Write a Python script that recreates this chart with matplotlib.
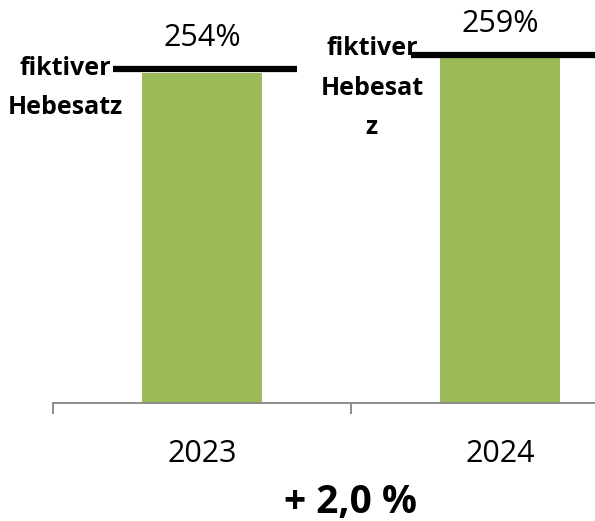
import matplotlib
matplotlib.use('Agg')
from matplotlib import pyplot as plt
from matplotlib import transforms

plt.rcParams['font.family'] = ['Open Sans', 'DejaVu Sans']

years = ['2023', '2024']
hebesatz = [254, 259]
value_labels = ['254%', '259%']
note_labels = ['fiktiver\nHebesatz', 'fiktiver\nHebesat\nz']
change_label = '+ 2,0 %'

bar_color = '#9BBB59'
axis_color = '#868686'

W, H = 595, 521
fig = plt.figure(figsize=(W / 100, H / 100), dpi=100)
axis_y = 402.7
left_px = 53
cat_px = 298
ax = fig.add_axes([left_px / W, (H - axis_y) / H, (W - left_px) / W, axis_y / H])

x = list(range(len(years)))
ax.bar(x, hebesatz, width=0.4, color=bar_color, zorder=2)

for s in ['top', 'right', 'left']:
    ax.spines[s].set_visible(False)
ax.spines['bottom'].set_color(axis_color)
ax.spines['bottom'].set_linewidth(1.3)
ax.set_yticks([])

ax.set_xticks(x)
ax.set_xticklabels(years, fontsize=22)
ax.tick_params(axis='x', which='major', length=0, pad=26)
ax.set_xticks([i - 0.5 for i in range(len(years) + 1)], minor=True)
ax.tick_params(axis='x', which='minor', length=8, width=1.3, color=axis_color, direction='out')

px_per_unit = 2.88
ax.set_xlim(-0.5, (W - left_px) / cat_px - 0.5)
ax.set_ylim(hebesatz[0] - (axis_y - 72.7) / px_per_unit, hebesatz[0] + 72.7 / px_per_unit)

# thick "fiktiver Hebesatz" line sitting on top of each bar
line_trans = transforms.offset_copy(ax.transData, fig=fig, x=0, y=3.4, units='dots')
for i, v in enumerate(hebesatz):
    ax.plot([i - 0.30, i + 0.32], [v, v], color='black', lw=4.5, solid_capstyle='butt',
            transform=line_trans, clip_on=False, zorder=3)

note_dx = [-0.458, -0.43]
note_dy = [17, 22]
for i, v in enumerate(hebesatz):
    t = transforms.offset_copy(ax.transData, fig=fig, x=0, y=note_dy[i], units='dots')
    ax.text(i + note_dx[i], v, note_labels[i], transform=t, ha='center', va='top',
            fontsize=18, fontweight='bold', linespacing=1.75, clip_on=False, zorder=4)

for i, v in enumerate(hebesatz):
    ax.annotate(value_labels[i], (i, v), xytext=(0, 19), textcoords='offset points',
                ha='center', va='baseline', fontsize=22)

mid_trans = transforms.blended_transform_factory(ax.transData, fig.transFigure)
ax.text(0.5, (H - 513) / H, change_label, transform=mid_trans,
        ha='center', va='baseline', fontsize=28, fontweight='bold')

fig.savefig('out.png', dpi=100)
